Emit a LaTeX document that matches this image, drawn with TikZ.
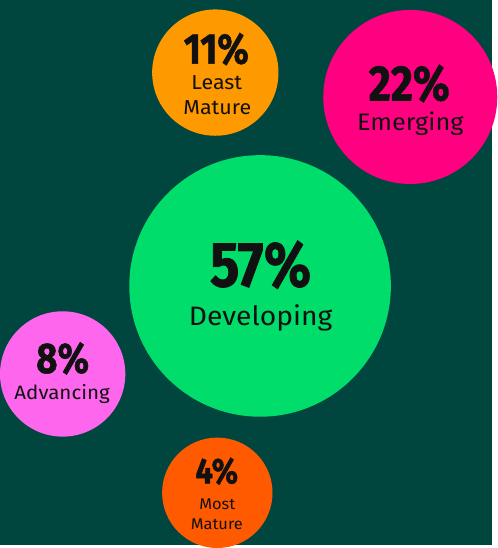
\documentclass[tikz,border=0pt]{standalone}
\usepackage{fontspec}
\setmainfont{Fira Sans}[FakeStretch=1.06]
\newfontfamily\pctfont{Fira Sans}[FakeStretch=0.86, BoldFeatures={FakeBold=1.2}]
\definecolor{bgteal}{HTML}{00463F}
\definecolor{cgreen}{HTML}{00DD6A}
\definecolor{corange}{HTML}{FF9900}
\definecolor{cmagenta}{HTML}{FF0080}
\definecolor{cpink}{HTML}{FF66EE}
\definecolor{cred}{HTML}{FF5A00}
\definecolor{ink}{HTML}{111111}

\begin{document}
\begin{tikzpicture}[x=1pt,y=-1pt,
		bubble/.style={circle, fill=#1, inner sep=0pt},
		pct/.style={font=\pctfont\bfseries\fontsize{#1}{#1}\selectfont, text=ink, anchor=base, inner sep=0pt},
		lbl/.style={font=\fontsize{#1}{#1}\selectfont, text=ink, anchor=base, inner sep=0pt}]
		% background
		\fill[bgteal] (0,0) rectangle (495,548);
		% bubbles
		\node[bubble=cgreen, minimum size=263pt](develop) at (261.5,287.5){};
		\node[bubble=corange, minimum size=127pt](least) at (216.5,73){};
		\node[bubble=cmagenta, minimum size=175pt](emerge) at (412.5,97.5){};
		\node[bubble=cpink, minimum size=126pt](advance) at (63,376){};
		\node[bubble=cred, minimum size=111pt](most) at (218.5,495.5){};
		% texts
		\node[pct=64](develop-p) at (262,288){57\%};
		\node[lbl=26.8](develop-l) at (262,327){Developing};
		\node[pct=43](least-p) at (217.5,64){11\%};
		\node[lbl=20.3](least-l1) at (218,90){Least};
		\node[lbl=20.3](least-l2) at (218.5,115.5){Mature};
		\node[pct=50](emerge-p) at (411.5,101){22\%};
		\node[lbl=24](emerge-l) at (412.5,131.5){Emerging};
		\node[pct=43](advance-p) at (63,375){8\%};
		\node[lbl=19.5](advance-l) at (62.5,401.5){Advancing};
		\node[pct=36](most-p) at (218,486){4\%};
		\node[lbl=15.6](most-l1) at (218.5,512.5){Most};
		\node[lbl=15.6](most-l2) at (218,532.5){Mature};
	\end{tikzpicture}
\end{document}
